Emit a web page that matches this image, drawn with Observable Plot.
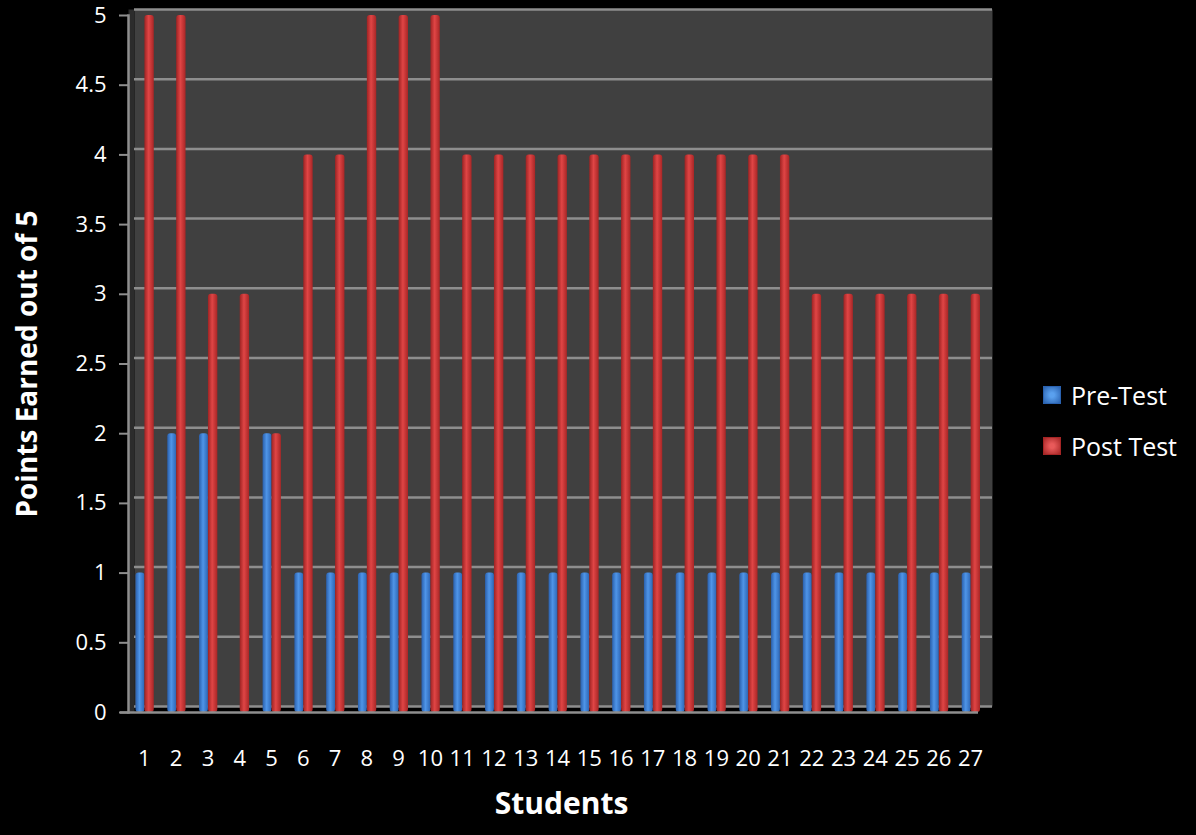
<!DOCTYPE html>
<html>
<head>
<meta charset="utf-8">
<script src="https://cdn.jsdelivr.net/npm/d3@7"></script>
<script src="https://cdn.jsdelivr.net/npm/@observablehq/plot@0.6"></script>
<style>
  html, body { margin: 0; padding: 0; background: #000; }
  #wrap { position: relative; width: 1196px; height: 835px; background: #000; overflow: hidden; }
  #legend { position: absolute; left: 1043px; top: 369px; font-family: "Open Sans", sans-serif; font-size: 25px; color: #fff; }
  .item { display: flex; align-items: center; height: 51px; }
  .sw { width: 16px; height: 16px; margin-right: 10px; }
</style>
</head>
<body>
<div id="wrap"><div id="legend"></div></div>
<script>
const students = d3.range(1, 28).map(String);
const preTest  = [1,2,2,0,2,1,1,1,1,1, 1,1,1,1,1,1,1,1,1,1,1, 1,1,1,1,1,1];
const postTest = [5,5,3,3,2,4,4,5,5,5, 4,4,4,4,4,4,4,4,4,4,4, 3,3,3,3,3,3];
const seriesNames = ["Pre-Test", "Post Test"];
const yTicks = [0,0.5,1,1.5,2,2.5,3,3.5,4,4.5,5];

const pre = students.map((s, i) => ({student: s, value: preTest[i]}));
const post = students.map((s, i) => ({student: s, value: postTest[i]}));
const font = "Open Sans, sans-serif";

const chart = Plot.plot({
  width: 1196,
  height: 835,
  marginLeft: 128,
  marginRight: 210,
  marginTop: 15,
  marginBottom: 123,
  style: {background: "#000", color: "#fff", fontFamily: font, overflow: "visible"},
  x: {domain: students, padding: 0, round: false, label: null},
  y: {domain: [0, 5], label: null},
  marks: [
    Plot.frame({fill: "#404040", stroke: null, dx: 6, dy: -6}),
    Plot.frame({anchor: "left", stroke: "#2c2c2c", strokeWidth: 6, dx: 3, dy: -3}),
    Plot.gridY(yTicks, {stroke: "#8e8e8e", strokeOpacity: 1, strokeWidth: 2.5, dx: 6, dy: -6}),
    Plot.barY(pre, {x: "student", y: "value", fill: "url(#gBlue)", insetLeft: 7.5, insetRight: 15.4, rx: 3}),
    Plot.barY(post, {x: "student", y: "value", fill: "url(#gRed)", insetLeft: 16.4, insetRight: 6, rx: 3}),
    Plot.ruleY([0], {stroke: "#8e8e8e", strokeWidth: 2.5, dx: -8}),
    Plot.frame({anchor: "left", stroke: "#8e8e8e", strokeWidth: 2.5}),
    Plot.axisY(yTicks, {tickSize: 9, tickPadding: 13, stroke: "#8e8e8e", strokeWidth: 2, fill: "#fff", fontSize: 22, fontFamily: font, tickFormat: d => String(d), label: null}),
    Plot.axisX({tickSize: 0, tickPadding: 38, fill: "#fff", fontSize: 22, fontFamily: font, label: null}),
    Plot.text(["Points Earned out of 5"], {frameAnchor: "left", textAnchor: "middle", rotate: -90, dx: -100, fill: "#fff", fontSize: 28, fontWeight: "bold", fontFamily: font}),
    Plot.text(["Students"], {frameAnchor: "bottom", dy: 101, dx: 4, fill: "#fff", fontSize: 30, fontWeight: "bold", fontFamily: font})
  ]
});

const svg = d3.select(chart);
const defs = svg.insert("defs", ":first-child");
function grad(id, stops) {
  const g = defs.append("linearGradient").attr("id", id).attr("x1", 0).attr("x2", 1).attr("y1", 0).attr("y2", 0);
  stops.forEach(([o, c]) => g.append("stop").attr("offset", o).attr("stop-color", c));
}
grad("gBlue", [[0, "#2a60ad"], [0.45, "#4f95e8"], [1, "#2d66b5"]]);
grad("gRed", [[0, "#9e2323"], [0.45, "#e04545"], [1, "#a82626"]]);
document.getElementById("wrap").prepend(chart);

const colors = [["#5aa0ee", "#2a62b0"], ["#e85a5a", "#a52525"]];
const legend = document.getElementById("legend");
seriesNames.forEach((name, i) => {
  const item = document.createElement("div");
  item.className = "item";
  const sw = document.createElement("div");
  sw.className = "sw";
  sw.style.background = `radial-gradient(circle, ${colors[i][0]} 20%, ${colors[i][1]} 100%)`;
  sw.style.border = "1px solid " + colors[i][1];
  item.appendChild(sw);
  const t = document.createElement("span");
  t.textContent = name;
  item.appendChild(t);
  legend.appendChild(item);
});
</script>
</body>
</html>
